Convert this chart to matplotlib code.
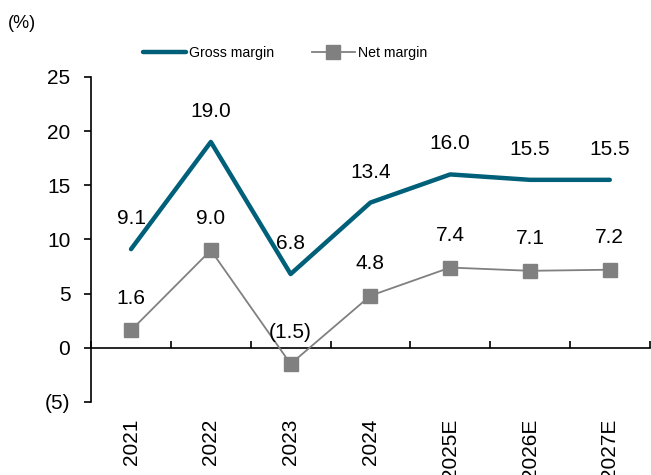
import numpy as np
import matplotlib.pyplot as plt
from matplotlib.ticker import FuncFormatter

plt.rcParams['font.family'] = ['Liberation Sans', 'DejaVu Sans']

years = ['2021', '2022', '2023', '2024', '2025E', '2026E', '2027E']
gross = [9.1, 19.0, 6.8, 13.4, 16.0, 15.5, 15.5]
net = [1.6, 9.0, -1.5, 4.8, 7.4, 7.1, 7.2]

teal = '#00607A'
grey = '#808080'

fig = plt.figure(figsize=(6.51, 4.75), dpi=100)
ax = fig.add_axes([0.14, 0.154, 0.858, 0.684])

x = np.arange(len(years))
ax.plot(x, gross, color=teal, lw=3.2, solid_capstyle='round', label='Gross margin', zorder=3)
ax.plot(x, net, color=grey, lw=1.3, marker='s', ms=10.5, mfc=grey, mec=grey,
        label='Net margin', zorder=3)


def fmt(v):
    return f'({abs(v):.1f})' if v < 0 else f'{v:.1f}'


for xi, g, n in zip(x, gross, net):
    ax.annotate(fmt(g), (xi, g), xytext=(0, 22), textcoords='offset points',
                ha='center', va='center', fontsize=15)
    ax.annotate(fmt(n), (xi, n), xytext=(0, 23), textcoords='offset points',
                ha='center', va='center', fontsize=15)

ax.set_xlim(-0.5, len(years) - 0.5)
ax.set_ylim(-5, 25)
ax.set_yticks(np.arange(-5, 26, 5))
ax.yaxis.set_major_formatter(FuncFormatter(lambda v, p: f'({abs(v):.0f})' if v < 0 else f'{v:.0f}'))
ax.tick_params(axis='y', direction='out', length=5, width=1.2, pad=10, labelsize=15)

# x axis sits on zero, boundaries marked with inward ticks
ax.spines['bottom'].set_position(('data', 0))
ax.spines['bottom'].set_linewidth(1.2)
ax.spines['left'].set_linewidth(1.2)
ax.spines['top'].set_visible(False)
ax.spines['right'].set_visible(False)
ax.set_xticks(x)
ax.set_xticklabels(years, rotation=90)
ax.set_xticks(np.arange(len(years) + 1) - 0.5, minor=True)
ax.tick_params(axis='x', which='major', length=0, pad=51, labelsize=15)
ax.tick_params(axis='x', which='minor', direction='in', length=5, width=1.2)

fig.text(0.012, 0.95, '(%)', fontsize=13, va='center', ha='left')

fig.legend(loc='center', bbox_to_anchor=(0.438, 0.888), ncol=2, frameon=False,
           fontsize=10.2, handlelength=3.0, handletextpad=0.2, columnspacing=2.7)

fig.savefig('out.png', dpi=100)
